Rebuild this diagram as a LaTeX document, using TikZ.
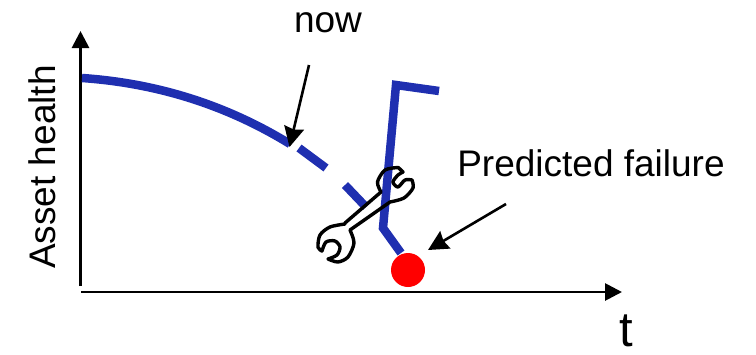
\documentclass[tikz,border=0pt]{standalone}
\usepackage{fontspec}
\setmainfont{Liberation Sans}
\usepackage{tikz}
\usetikzlibrary{calc,positioning,arrows.meta}
\definecolor{myblue}{RGB}{31,47,176}
\definecolor{myred}{RGB}{255,0,0}
\tikzset{
  axisline/.style={line width=2.8pt,-{Triangle[length=17pt,width=17pt]}},
  callout/.style={line width=2.6pt,-{Stealth[length=20pt,width=20pt,inset=2pt]}},
  healthline/.style={line width=8.5pt,myblue},
  bigtext/.style={font=\fontsize{37}{37}\selectfont,anchor=base,inner sep=0pt},
}
\begin{document}
\begin{tikzpicture}[x=1pt,y=-1pt]
  \useasboundingbox (0,0) rectangle (756,354);
  % Axes
  \coordinate (ybase) at (80.5,286);
  \coordinate (ytop) at (80.5,31);
  \coordinate (xbase) at (81,292);
  \coordinate (xend) at (622,292);
  \draw[axisline] (ybase) -- (ytop);
  \draw[axisline] (xbase) -- (xend);
  \node[bigtext,rotate=90] (ylabel) at (56,167) {Asset health};
  \node[bigtext,font=\fontsize{49}{49}\selectfont] (xlabel) at (626,346) {t};

  % Health curve
  \coordinate (curvestart) at (82,78);
  \coordinate (curveend) at (290,144);
  \draw[healthline] (curvestart) .. controls (155,83) and (225,104) .. (curveend);
  \coordinate (dasha) at (299,148);
  \coordinate (dashb) at (326,168);
  \coordinate (dashc) at (345,185);
  \coordinate (dashd) at (366,207);
  \draw[healthline] (dasha) -- (dashb);
  \draw[healthline] (dashc) -- (dashd);

  % After repair
  \coordinate (repairend) at (439,91);
  \coordinate (repairtop) at (396,85);
  \coordinate (repairlow) at (383,228);
  \coordinate (repairfail) at (401,253);
  \draw[healthline,line join=miter] (repairend) -- (repairtop) -- (repairlow) -- (repairfail);

  % Failure
  \node[circle,fill=myred,minimum size=34pt,inner sep=0pt] (failure) at (408,270) {};
  \node[bigtext] (predicted) at (591,176) {Predicted failure};
  \node[bigtext] (nowlabel) at (328,32) {now};
  \coordinate (nowtail) at (309,65);
  \coordinate (nowtip) at (289.5,147);
  \coordinate (predtail) at (506,204);
  \coordinate (predtip) at (428,250);
  \draw[callout] (nowtail) -- (nowtip);
  \draw[callout] (predtail) -- (predtip);

  % Wrench
  \draw[line width=3.4pt,line join=round,line cap=round]
    plot[smooth] coordinates {(398.3,167.5) (385,170) (377.5,182) (381,192)}
    -- (345,223)
    -- plot[smooth] coordinates {(345,224) (330,227) (320,235) (318,247.3) (322,251)}
    -- plot[smooth] coordinates {(322,251) (326,242) (335,241) (340,247) (337,255) (328,259)}
    -- plot[smooth] coordinates {(328,259) (338,262) (348,257) (354,243) (350,230)}
    -- (390,202)
    -- plot[smooth] coordinates {(390,202) (404,198) (413,188) (412,180)}
    -- plot[smooth] coordinates {(412,180) (405,180) (398,187) (393,182) (398,175) (403,172)}
    -- cycle;
\end{tikzpicture}
\end{document}
